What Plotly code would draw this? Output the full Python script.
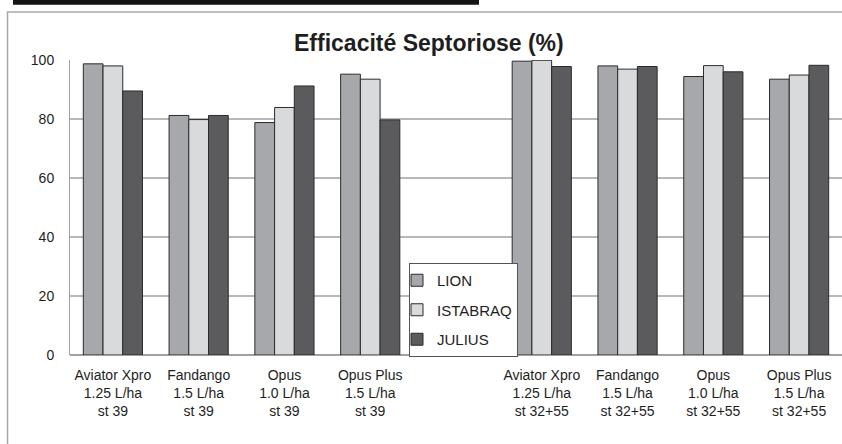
import plotly.graph_objects as go

categories = [
    "Aviator Xpro<br>1.25 L/ha<br>st 39",
    "Fandango<br>1.5 L/ha<br>st 39",
    "Opus<br>1.0 L/ha<br>st 39",
    "Opus Plus<br>1.5 L/ha<br>st 39",
    " ",
    "Aviator Xpro<br>1.25 L/ha<br>st 32+55",
    "Fandango<br>1.5 L/ha<br>st 32+55",
    "Opus<br>1.0 L/ha<br>st 32+55",
    "Opus Plus<br>1.5 L/ha<br>st 32+55",
]
lion = [98.7, 81.2, 78.8, 95.2, None, 99.6, 98.0, 94.4, 93.5]
istabraq = [98.0, 79.8, 83.9, 93.5, None, 99.9, 96.9, 98.1, 94.9]
julius = [89.5, 81.2, 91.2, 79.7, None, 97.8, 97.8, 96.0, 98.2]
series_names = ["LION", "ISTABRAQ", "JULIUS"]
series_colors = ["#a7a8ab", "#d9dadc", "#5b5b5d"]
y_ticks = [0, 20, 40, 60, 80, 100]

W, H = 842, 444
L, R, T, B = 70, 0, 60, 89
pw, ph = W - L - R, H - T - B


def px(x):
    return (x - L) / pw


def py(y):
    return (H - B - y) / ph


fig = go.Figure()
for i, (name, vals, col) in enumerate(zip(series_names, [lion, istabraq, julius], series_colors)):
    fig.add_trace(go.Bar(
        name=name, x=categories, y=vals,
        marker=dict(color=col, line=dict(color="#2b2b2b", width=1)),
        legendgroup=name,
    ))

font = "Liberation Sans, Arial, sans-serif"
fig.update_layout(
    width=W, height=H,
    margin=dict(l=L, r=R, t=T, b=B),
    paper_bgcolor="white", plot_bgcolor="white",
    barmode="group", bargap=0.31, bargroupgap=0,
    font=dict(family=font, size=14, color="#1e1e1e"),
    showlegend=True,
    legend=dict(
        x=px(409), y=py(263), xanchor="left", yanchor="top",
        bordercolor="#555555", borderwidth=1, bgcolor="white",
        font=dict(size=15, family=font, color="#1e1e1e"),
        traceorder="grouped", tracegroupgap=7, itemwidth=30,
        indentation=-13,
    ),
    xaxis=dict(
        type="category", showgrid=False, showline=False, ticks="",
        tickfont=dict(size=14), tickangle=0, ticklabelstandoff=10,
    ),
    yaxis=dict(
        range=[0, 100], tickvals=y_ticks, showgrid=True, gridcolor="#b8b8b8",
        gridwidth=1.5, showline=True, linecolor="#a0a0a0", linewidth=1,
        zeroline=True, zerolinecolor="#a0a0a0", zerolinewidth=1.5,
        ticks="", ticklabelstandoff=12, tickfont=dict(size=14),
    ),
    annotations=[dict(
        text="<b>Efficacité Septoriose (%)</b>", xref="paper", yref="paper",
        x=px(429), y=py(43), xanchor="center", yanchor="middle",
        showarrow=False, font=dict(size=23, family=font, color="#1e1e1e"),
    )],
    shapes=[
        dict(type="path", xref="paper", yref="paper",
             path=f"M {px(7.5)} {py(444)} L {px(7.5)} {py(12)} L {px(842)} {py(12)}",
             line=dict(color="#a8a8a8", width=1.5)),
        dict(type="rect", xref="paper", yref="paper",
             x0=px(13), x1=px(479), y0=py(0), y1=py(4.7),
             fillcolor="#141414", line=dict(width=0)),
    ],
)

fig.write_html(
    "out.html",
    config={"displayModeBar": False},
    post_script="document.body.style.margin='0';document.body.style.overflow='hidden';",
)
